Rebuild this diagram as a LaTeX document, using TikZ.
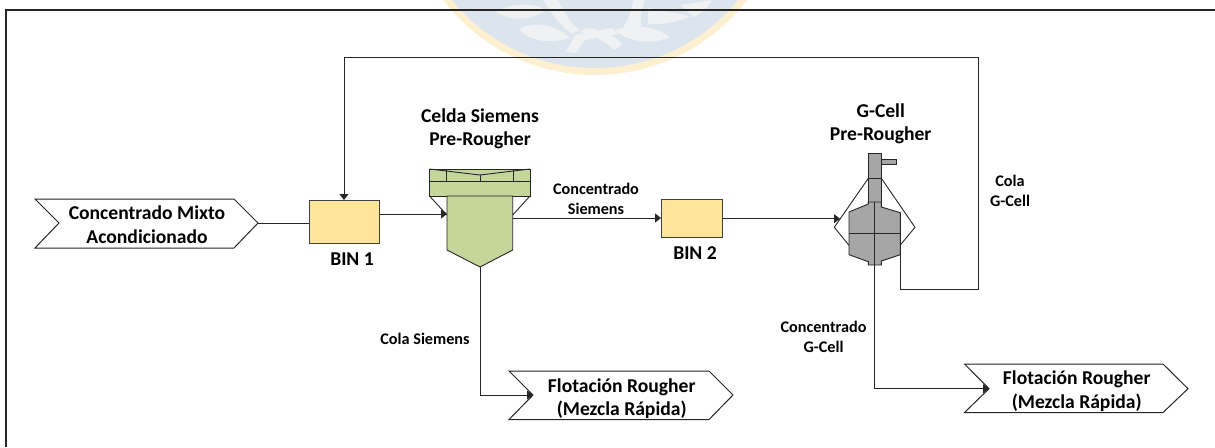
\documentclass[tikz,border=0pt]{standalone}
\usepackage{fontspec}
\setmainfont{Carlito}
\usetikzlibrary{arrows.meta}
\definecolor{binfill}{HTML}{FEE599}
\definecolor{cellfill}{HTML}{C5D69B}
\definecolor{gcellfill}{HTML}{A6A6A6}
\definecolor{wmblue}{HTML}{DCE4EE}
\definecolor{wmring}{HTML}{FDF0D0}
\definecolor{wmleaf}{HTML}{F0F1F2}
\tikzset{
  x=1pt,y=-1pt,
  ln/.style={draw=black!85,line width=1pt,line join=miter},
  flow/.style={ln,-{Triangle[length=6pt,width=9pt]}},
  plainflow/.style={ln},
  bin/.style={rectangle,draw=black!75,line width=1pt,fill=binfill,inner sep=0pt,anchor=north west},
  lblbig/.style={font=\fontsize{19.6}{23.5}\selectfont\bfseries,align=center,inner sep=0pt},
  lblsmall/.style={font=\fontsize{16.2}{20}\selectfont\bfseries,align=center,inner sep=0pt},
  chev/.style={ln,fill=white},
  leaf/.style={fill=wmleaf,draw=none}
}
\begin{document}
\begin{tikzpicture}
\useasboundingbox (0,0) rectangle (1215,447);
% watermark
\begin{scope}
\clip (0,0) rectangle (1215,447);
\fill[wmring] (595,-116.5) circle[radius=191.5];
\fill[wmblue] (595,-116.5) circle[radius=184.5];
\fill[leaf] (496,12) .. controls (510,3) and (535,2) .. (545,10) .. controls (535,20) and (510,22) .. (496,12) -- cycle;
\fill[leaf] (519,29) .. controls (535,21) and (555,24) .. (570,38) .. controls (550,44) and (530,42) .. (519,29) -- cycle;
\fill[leaf] (543,0) -- (558,0) .. controls (565,15) and (572,25) .. (580,30) -- (572,34) .. controls (560,25) and (552,15) .. (543,0) -- cycle;
\fill[leaf] (566,52) -- (575,35) -- (612,28) -- (618,34) -- (585,40) -- (576,53) -- cycle;
\fill[leaf] (580,32) -- (586,28) .. controls (605,30) and (618,38) .. (622,45) -- (614,50) .. controls (606,42) and (595,36) .. (580,32) -- cycle;
\fill[leaf] (633,0) -- (645,0) .. controls (640,12) and (640,22) .. (642,26) -- (620,32) .. controls (628,22) and (632,10) .. (633,0) -- cycle;
\fill[leaf] (615,30) .. controls (635,24) and (655,26) .. (670,37) .. controls (655,44) and (630,44) .. (615,30) -- cycle;
\fill[leaf] (648,8) -- (690,16) .. controls (680,22) and (660,25) .. (648,24) -- cycle;
\fill[leaf] (680,5) -- (712,0) .. controls (708,8) and (700,14) .. (694,17) -- cycle;
\end{scope}
% frame
\draw[ln,line width=1.2pt] (6,447) -- (6,10) -- (1215,10);

% input chevron
\draw[chev] (35,199) -- (234,199) -- (258,223) -- (234,248) -- (35,248) -- (59,223) -- cycle;
\node[lblbig] (inlbl) at (147,224.5) {Concentrado Mixto\\Acondicionado};
\coordinate (intip) at (258,223);

% bins
\node[bin,minimum width=70pt,minimum height=43pt] (bin1) at (309,200) {};
\node[lblbig] (bin1lbl) at (352,259) {BIN 1};
\node[bin,minimum width=61pt,minimum height=38pt] (bin2) at (661,199) {};
\node[lblbig] (bin2lbl) at (695,253) {BIN 2};

% Siemens cell
\begin{scope}[ln,line width=.9pt]
\draw[fill=cellfill] (429.5,169) rectangle (530,196);
\draw (429.5,181) -- (530,181);
\draw (446.7,170) -- (446.7,181) (513,170) -- (513,181) (480,175) -- (480,181);
\draw (429.5,169) -- (480,175) -- (530,169);
\draw (429.5,196) -- (447,215) (530,196) -- (512.7,215);
\draw[fill=cellfill] (447,196) -- (512.7,196) -- (512.7,250) -- (480,267) -- (447,250) -- cycle;
\end{scope}
\coordinate (sin) at (447,214);
\coordinate (sout) at (512.7,218);
\coordinate (sbot) at (480,267);
\node[lblbig] (slbl) at (480,129) {Celda Siemens\\Pre-Rougher};

% G-Cell
\begin{scope}[ln,line width=.9pt]
\draw (868.3,178.3) -- (834.3,227.3) -- (849.3,245.7);
\draw (881.3,178.3) -- (915,227.3) -- (900.3,245);
\draw[fill=gcellfill] (868.3,153.7) rectangle (881.3,202);
\draw (868.3,178.3) -- (881.3,178.3);
\draw[fill=gcellfill] (881.3,159) rectangle (896,164.3);
\draw[fill=gcellfill] (868.3,202) -- (874.7,202) -- (881.3,202) -- (881.3,207) -- (900.3,212.7) -- (900.3,254.7) -- (881.3,261) -- (881.3,265) -- (868.3,265) -- (868.3,261.7) -- (849,254.7) -- (849,212) -- (868.3,204) -- cycle;
\draw (874.7,202) -- (874.7,265);
\draw (849,233.7) -- (900.3,233.7);
\end{scope}
\coordinate (gin) at (840,218.7);
\coordinate (gbot) at (874.7,265);
\coordinate (gout) at (900.3,254.7);
\node[lblbig] (glbl) at (880.7,124) {G-Cell\\Pre-Rougher};

% output chevrons
\draw[chev] (509,371) -- (709,371) -- (733,395) -- (709,419.5) -- (509,419.5) -- (533,395) -- cycle;
\node[lblbig] (o1lbl) at (621.7,398.5) {Flotación Rougher\\(Mezcla Rápida)};
\coordinate (o1) at (533,395);
\draw[chev] (964.5,364) -- (1163,364) -- (1188,388.7) -- (1163,412.5) -- (964.5,412.5) -- (989,388.7) -- cycle;
\node[lblbig] (o2lbl) at (1076.7,391) {Flotación Rougher\\(Mezcla Rápida)};
\coordinate (o2) at (989,388.7);

% connectors
\draw[plainflow] (intip) -- (bin1.west |- intip);
\draw[flow] (bin1.east |- sin) -- (sin);
\draw[flow] (sout) -- (bin2.west |- sout);
\draw[flow] (bin2.east |- gin) -- (gin);
\draw[flow] (sbot) |- (o1);
\draw[flow] (gbot) |- (o2);
\draw[flow] (gout) |- (978.7,289) |- (344,57) -- (bin1.north -| 344,0);

% stream labels
\node[lblsmall] (concs) at (596,199) {Concentrado\\Siemens};
\node[lblsmall] (colas) at (425,339) {Cola Siemens};
\node[lblsmall] (colag) at (1010,190.5) {Cola\\G-Cell};
\node[lblsmall] (concg) at (823.5,337) {Concentrado\\G-Cell};
\end{tikzpicture}
\end{document}
